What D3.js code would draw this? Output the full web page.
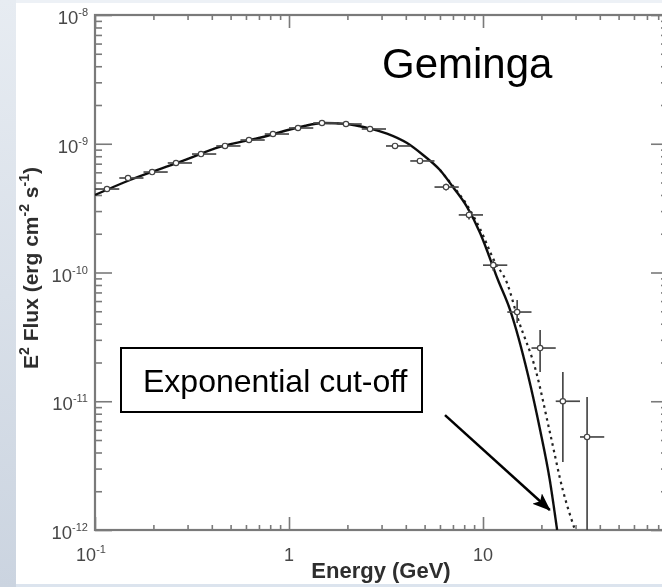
<!DOCTYPE html>
<html>
<head>
<meta charset="utf-8">
<script src="https://cdn.jsdelivr.net/npm/d3@7"></script>
<style>
  html, body { margin: 0; padding: 0; background: #ffffff; }
  svg { display: block; }
</style>
</head>
<body>
<svg id="chart" width="662" height="587"></svg>
<script>
// ---------------- data ----------------
// Spectral points: energy (GeV), E^2 flux (erg cm^-2 s^-1), bin edges and flux errors
const pointEnergy = [0.1153, 0.148, 0.197, 0.2616, 0.352, 0.468, 0.622, 0.827, 1.113, 1.479, 1.967,
                     2.616, 3.52, 4.73, 6.45, 8.47, 11.3, 15.0, 19.7, 25.8, 34.4];
const pointFlux   = [4.45e-10, 5.42e-10, 6.03e-10, 7.09e-10, 8.32e-10, 9.61e-10, 1.069e-9, 1.19e-9,
                     1.325e-9, 1.449e-9, 1.423e-9, 1.302e-9, 9.61e-10, 7.35e-10, 4.61e-10, 2.80e-10,
                     1.14e-10, 4.93e-11, 2.59e-11, 1.0e-11, 5.28e-12];
const binLow      = [0.1, 0.1334, 0.1778, 0.2371, 0.3162, 0.4217, 0.5623, 0.7499, 1.0, 1.334, 1.778,
                     2.371, 3.162, 4.217, 5.623, 7.499, 10.0, 13.34, 17.78, 23.71, 31.62];
const binHigh     = [0.1334, 0.1778, 0.2371, 0.3162, 0.4217, 0.5623, 0.7499, 1.0, 1.334, 1.778, 2.371,
                     3.162, 4.217, 5.623, 7.499, 10.0, 13.34, 17.78, 23.71, 31.62, 42.17];
const fluxLow     = [4.32e-10, 5.26e-10, 5.85e-10, 6.88e-10, 8.07e-10, 9.32e-10, 1.037e-9, 1.154e-9,
                     1.285e-9, 1.406e-9, 1.380e-9, 1.263e-9, 9.23e-10, 6.98e-10, 4.33e-10, 2.58e-10,
                     1.03e-10, 4.05e-11, 1.69e-11, 3.37e-12, 1.0e-13];
const fluxHigh    = [4.58e-10, 5.58e-10, 6.21e-10, 7.30e-10, 8.57e-10, 9.90e-10, 1.101e-9, 1.226e-9,
                     1.365e-9, 1.492e-9, 1.466e-9, 1.341e-9, 9.99e-10, 7.72e-10, 4.89e-10, 3.02e-10,
                     1.25e-10, 6.11e-11, 3.58e-11, 1.69e-11, 1.08e-11];

// Exponential cut-off model (solid line)
const cutoffEnergy = [0.1, 0.1515, 0.274, 0.440, 0.735, 1.14, 1.50, 1.99, 2.52, 3.20, 4.06, 4.91,
                      6.0, 7.0, 8.27, 9.66, 11.95, 13.8, 17.06, 19.7, 22.1, 24.1];
const cutoffFlux   = [4.0e-10, 5.23e-10, 7.22e-10, 9.44e-10, 1.128e-9, 1.349e-9, 1.449e-9, 1.423e-9,
                      1.33e-9, 1.20e-9, 1.013e-9, 8.18e-10, 6.25e-10, 4.61e-10, 3.23e-10, 2.03e-10,
                      8.74e-11, 5.11e-11, 1.60e-11, 5.98e-12, 2.44e-12, 1.0e-12];

// Free-index cut-off model (dotted line)
const freeEnergy = [6.0, 7.0, 8.27, 9.66, 11.5, 13.3, 15.1, 18.8, 22.1, 25.8, 29.8];
const freeFlux   = [6.25e-10, 4.7e-10, 3.34e-10, 2.18e-10, 1.207e-10, 8.29e-11, 4.43e-11, 1.69e-11,
                    5.77e-12, 2.04e-12, 1.0e-12];

// Axis ticks and labels
const xMajorTicks = [0.1, 1, 10, 100];
const xTickBase   = ["10", "1", "10", ""];
const xTickExp    = ["-1", "", "", ""];
const yMajorTicks = [1e-12, 1e-11, 1e-10, 1e-9, 1e-8];
const yTickExp    = ["-12", "-11", "-10", "-9", "-8"];

// Annotation
const titleText = "Geminga";
const noteText = "Exponential cut-off";
const arrowFrom = [6.37, 7.8e-12];
const arrowTo   = [22.1, 1.43e-12];

// ---------------- layout ----------------
const svg = d3.select("#chart");
const W = 662, H = 587;
const plot = { left: 95, top: 15, right: 677, bottom: 530 };

const x = d3.scaleLog().domain([0.1, 100]).range([plot.left, plot.right]);
const y = d3.scaleLog().domain([1e-12, 1e-8]).range([plot.bottom, plot.top]);

function minorTicks(lo, hi) {
  const out = [];
  for (let e = Math.round(Math.log10(lo)); e < Math.round(Math.log10(hi)); e++) {
    for (let k = 2; k <= 9; k++) out.push(k * Math.pow(10, e));
  }
  return out;
}
const xMinor = minorTicks(0.1, 100);
const yMinor = minorTicks(1e-12, 1e-8);

// ---------------- background ----------------
const defs = svg.append("defs");
const grad = defs.append("linearGradient").attr("id", "sideGrad")
  .attr("x1", 0).attr("y1", 0).attr("x2", 0).attr("y2", 1);
grad.append("stop").attr("offset", "0%").attr("stop-color", "#e7ecf2");
grad.append("stop").attr("offset", "100%").attr("stop-color", "#cbd4e0");

svg.append("rect").attr("width", W).attr("height", H).attr("fill", "#ffffff");
svg.append("rect").attr("x", 0).attr("y", 0).attr("width", 16).attr("height", H).attr("fill", "url(#sideGrad)");
svg.append("rect").attr("x", 16).attr("y", 0).attr("width", W - 16).attr("height", 3).attr("fill", "#edf1f6");
svg.append("rect").attr("x", 16).attr("y", H - 3).attr("width", W - 16).attr("height", 3).attr("fill", "#dce4ee");

defs.append("filter").attr("id", "soft")
  .append("feGaussianBlur").attr("stdDeviation", 0.55);

defs.append("clipPath").attr("id", "plotClip")
  .append("rect")
  .attr("x", plot.left).attr("y", plot.top)
  .attr("width", plot.right - plot.left).attr("height", plot.bottom - plot.top);

const fig = svg.append("g").attr("filter", "url(#soft)");

// ---------------- axes ----------------
const axisColor = "#7a7a7a";
const fontFamily = "'Liberation Sans', Arial, Helvetica, sans-serif";

function drawAxis(axis, transform, cls) {
  const g = fig.append("g").attr("class", cls).attr("transform", transform).call(axis);
  g.select(".domain").remove();
  g.selectAll(".tick line").attr("stroke", axisColor).attr("stroke-width", 1.6);
  g.selectAll(".tick text").remove();
  return g;
}

// bottom / top: ticks point into the plot
drawAxis(d3.axisBottom(x).tickValues(xMajorTicks).tickSize(-13), `translate(0,${plot.bottom})`, "x-major-b");
drawAxis(d3.axisBottom(x).tickValues(xMinor).tickSize(-5), `translate(0,${plot.bottom})`, "x-minor-b");
drawAxis(d3.axisTop(x).tickValues(xMajorTicks).tickSize(-13), `translate(0,${plot.top})`, "x-major-t");
drawAxis(d3.axisTop(x).tickValues(xMinor).tickSize(-5), `translate(0,${plot.top})`, "x-minor-t");
// left / right
drawAxis(d3.axisLeft(y).tickValues(yMajorTicks).tickSize(-17), `translate(${plot.left},0)`, "y-major-l");
drawAxis(d3.axisLeft(y).tickValues(yMinor).tickSize(-7), `translate(${plot.left},0)`, "y-minor-l");
drawAxis(d3.axisRight(y).tickValues(yMajorTicks).tickSize(-26), `translate(${plot.right},0)`, "y-major-r");
drawAxis(d3.axisRight(y).tickValues(yMinor).tickSize(-16), `translate(${plot.right},0)`, "y-minor-r");

// frame
fig.append("rect")
  .attr("x", plot.left).attr("y", plot.top)
  .attr("width", plot.right - plot.left).attr("height", plot.bottom - plot.top)
  .attr("fill", "none").attr("stroke", axisColor).attr("stroke-width", 2.2);

// tick labels with superscript exponents
const labelColor = "#474747";
const xLab = fig.append("g").attr("font-family", fontFamily).attr("fill", labelColor);
xMajorTicks.forEach((v, i) => {
  if (!xTickBase[i]) return;
  const t = xLab.append("text")
    .attr("x", x(v) - (xTickExp[i] ? 4 : 0)).attr("y", plot.bottom + 31)
    .attr("text-anchor", "middle").attr("font-size", 18);
  t.append("tspan").text(xTickBase[i]);
  if (xTickExp[i]) t.append("tspan").attr("font-size", 11).attr("dy", -8).text(xTickExp[i]);
});

const yLab = fig.append("g").attr("font-family", fontFamily).attr("fill", labelColor);
yMajorTicks.forEach((v, i) => {
  const t = yLab.append("text")
    .attr("x", plot.left - 7).attr("y", y(v) + 9)
    .attr("text-anchor", "end").attr("font-size", 18.5);
  t.append("tspan").text("10");
  t.append("tspan").attr("font-size", 11).attr("dy", -8).text(yTickExp[i]);
});

// axis titles
const titleColor = "#2e2e2e";
fig.append("text")
  .attr("x", 381).attr("y", 578)
  .attr("text-anchor", "middle")
  .attr("font-family", fontFamily).attr("font-weight", "bold").attr("font-size", 22)
  .attr("fill", titleColor)
  .text("Energy (GeV)");

const yt = fig.append("text")
  .attr("transform", "translate(38,268) rotate(-90)")
  .attr("text-anchor", "middle")
  .attr("font-family", fontFamily).attr("font-weight", "bold").attr("font-size", 21)
  .attr("fill", titleColor);
[["E", 0], ["2", 1], [" Flux (erg cm", 0], ["-2", 1], [" s", 0], ["-1", 1], [")", 0]].forEach(([s, sup], i, arr) => {
  const prevSup = i > 0 && arr[i - 1][1];
  const ts = yt.append("tspan").text(s);
  if (sup) ts.attr("font-size", 14).attr("dy", -9);
  else if (prevSup) ts.attr("dy", 9);
});

// ---------------- model curves ----------------
const curves = fig.append("g").attr("clip-path", "url(#plotClip)");
const line = d3.line()
  .x(d => x(d[0])).y(d => y(d[1]))
  .curve(d3.curveMonotoneX);

curves.append("path")
  .datum(freeEnergy.map((e, i) => [e, freeFlux[i]]))
  .attr("d", line)
  .attr("fill", "none").attr("stroke", "#222").attr("stroke-width", 2.2)
  .attr("stroke-dasharray", "2.5,4");

curves.append("path")
  .datum(cutoffEnergy.map((e, i) => [e, cutoffFlux[i]]))
  .attr("d", line)
  .attr("fill", "none").attr("stroke", "#111").attr("stroke-width", 2.4);

// ---------------- data points ----------------
const pts = pointEnergy.map((e, i) => ({
  e, f: pointFlux[i], lo: binLow[i], hi: binHigh[i], fl: fluxLow[i], fh: fluxHigh[i]
}));
const pg = curves.append("g").selectAll("g").data(pts).join("g");
pg.append("line")
  .attr("x1", d => x(d.lo)).attr("x2", d => x(d.hi))
  .attr("y1", d => y(d.f)).attr("y2", d => y(d.f))
  .attr("stroke", "#4a4a4a").attr("stroke-width", 1.7);
pg.append("line")
  .attr("x1", d => x(d.e)).attr("x2", d => x(d.e))
  .attr("y1", d => y(d.fl)).attr("y2", d => y(d.fh))
  .attr("stroke", "#4a4a4a").attr("stroke-width", 1.7);
pg.append("circle")
  .attr("cx", d => x(d.e)).attr("cy", d => y(d.f)).attr("r", 2.7)
  .attr("fill", "#fff").attr("stroke", "#444").attr("stroke-width", 1.2);

// ---------------- annotations ----------------
svg.append("text")
  .attr("x", 382).attr("y", 78)
  .attr("font-family", fontFamily).attr("font-size", 42).attr("fill", "#000")
  .text(titleText);

svg.append("rect")
  .attr("x", 121).attr("y", 348).attr("width", 301).attr("height", 64)
  .attr("fill", "#fff").attr("stroke", "#000").attr("stroke-width", 2);
svg.append("text")
  .attr("x", 143).attr("y", 392)
  .attr("font-family", fontFamily).attr("font-size", 32).attr("fill", "#000")
  .text(noteText);

defs.append("marker").attr("id", "arrowHead")
  .attr("markerUnits", "userSpaceOnUse")
  .attr("viewBox", "0 0 18 14").attr("markerWidth", 18).attr("markerHeight", 14)
  .attr("refX", 17).attr("refY", 7).attr("orient", "auto")
  .append("path").attr("d", "M0,0 L18,7 L0,14 L4,7 Z").attr("fill", "#000");

svg.append("line")
  .attr("x1", x(arrowFrom[0])).attr("y1", y(arrowFrom[1]))
  .attr("x2", x(arrowTo[0])).attr("y2", y(arrowTo[1]))
  .attr("stroke", "#000").attr("stroke-width", 2.5)
  .attr("marker-end", "url(#arrowHead)");
</script>
</body>
</html>
